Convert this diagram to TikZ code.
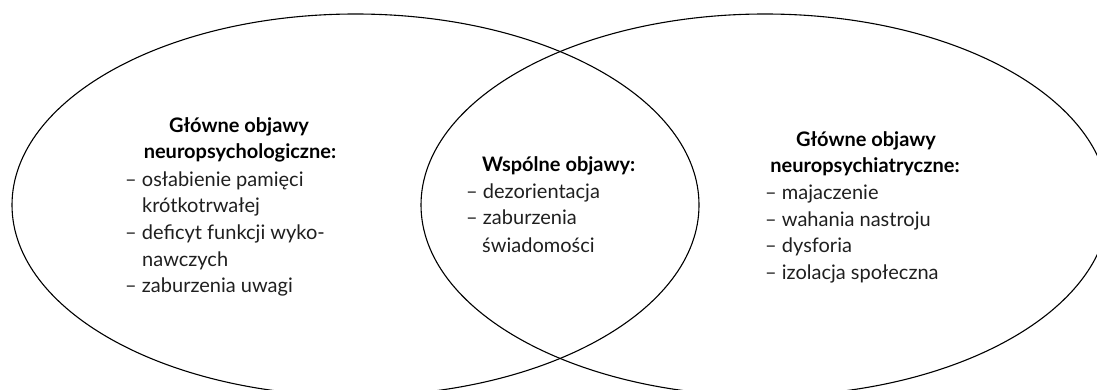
\documentclass[tikz,border=0pt]{standalone}
\usepackage{fontspec}
\setmainfont{Lato}
\begin{document}
\begin{tikzpicture}[x=1pt,y=-1pt,
  txt/.style={inner sep=0pt,font=\fontsize{20}{26.7}\selectfont,text=black!88},
  hd/.style={inner sep=0pt,font=\fontsize{20}{26.7}\selectfont\bfseries,anchor=base},
  li/.style={txt,anchor=base west},
  oval/.style={draw=black,line width=1.1pt}]
\useasboundingbox (0,0) rectangle (1097,390);
\clip (0,0) rectangle (1097,390);
\draw[oval] (355.5,205) ellipse [x radius=343.5pt, y radius=191pt];
\draw[oval] (765,205) ellipse [x radius=344pt, y radius=191pt];
% left block
\node[hd] (lh1) at (239,132.5) {Główne objawy};
\node[hd] (lh2) at (240,159) {neuropsychologiczne:};
\node[li] (l1) at (125,186) {– osłabienie pamięci};
\node[li] (l2) at (142,212.5) {krótkotrwałej};
\node[li] (l3) at (125,239) {– deficyt funkcji wyko-};
\node[li] (l4) at (142,266) {nawczych};
\node[li] (l5) at (125,292.5) {– zaburzenia uwagi};
% middle block
\node[hd,anchor=base west] (mh) at (482,172) {Wspólne objawy:};
\node[li] (m1) at (466,198.5) {– dezorientacja};
\node[li] (m2) at (466,225) {– zaburzenia};
\node[li] (m3) at (482,252) {świadomości};
% right block
\node[hd] (rh1) at (866,146.5) {Główne objawy};
\node[hd] (rh2) at (865,173) {neuropsychiatryczne:};
\node[li] (r1) at (765,199.5) {– majaczenie};
\node[li] (r2) at (765,226) {– wahania nastroju};
\node[li] (r3) at (765,252.5) {– dysforia};
\node[li] (r4) at (765,279) {– izolacja społeczna};
\end{tikzpicture}
\end{document}
